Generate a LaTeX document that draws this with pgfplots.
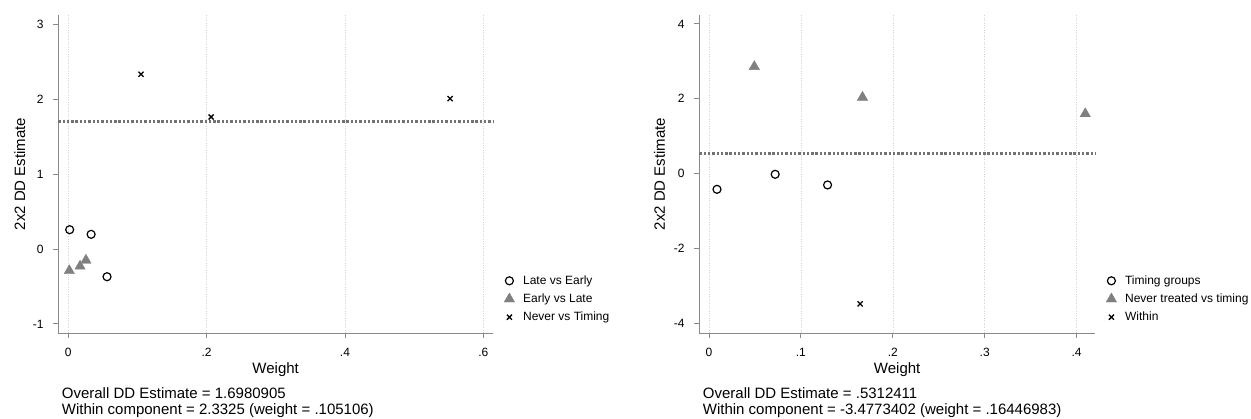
\documentclass[border=0pt]{standalone}
\usepackage{fontspec}
\setmainfont{Liberation Sans}
\usepackage{pgfplots}
\pgfplotsset{compat=1.18}
\definecolor{axgray}{HTML}{8A8A8A}
\definecolor{mgray}{HTML}{808080}
\definecolor{gridgray}{HTML}{D2D2D2}
\pgfplotsset{
  stata/.style={
    scale only axis,
    axis lines*=left,
    axis line style={axgray, line width=0.9pt},
    every tick/.style={axgray, line width=0.9pt},
    major tick length=5pt,
    tick align=outside,
    xtick pos=bottom, ytick pos=left,
    xmajorgrids,
    ymajorgrids=false,
    major x grid style={gridgray, line width=0.6pt, dash pattern=on 0.8pt off 1.6pt},
    tick label style={font=\fontsize{12}{14}\selectfont},
    /pgf/number format/assume math mode=true,
    xticklabel style={anchor=base, inner sep=0pt, yshift=-18.7pt},
    yticklabel style={anchor=east, inner sep=0pt, xshift=-9.5pt},
    label style={font=\fontsize{15}{17}\selectfont, inner sep=0pt},
    legend cell align=left,
    legend style={draw=none, fill=none, font=\fontsize{12}{14}\selectfont,
      anchor=south west, row sep=5pt,
      nodes={inner sep=1.5pt},
      /tikz/every odd column/.append style={column sep=7pt}},
    legend image code/.code={\draw[mark repeat=2,mark phase=2] plot coordinates {(-3pt,0pt)(0pt,0pt)(3pt,0pt)};},
    clip=false,
  },
  circ/.style={only marks, mark=o, mark size=4pt, black, line width=1.2pt},
  tri/.style={only marks, mark=triangle*, mark size=6pt, mgray, draw=none, fill=mgray},
  crs/.style={only marks, mark=x, mark size=3.6pt, black, line width=1.3pt},
  ddline/.style={mgray!90!black, line width=3.2pt, dash pattern=on 2.4pt off 1.9pt},
}
\begin{document}
\begin{tikzpicture}[x=1pt,y=1pt]
\path[use as bounding box] (0,0) rectangle (1251,419);
% ---------------- left panel
\begin{axis}[stata,
  at={(58.3pt,86pt)}, anchor=south west,
  width=434.7pt, height=318pt,
  xmin=-0.01445, xmax=0.614, ymin=-1.121, ymax=3.124,
  xtick={0,0.2,0.4,0.6}, xticklabels={0,.2,.4,.6},
  ytick={-1,0,1,2,3}, yticklabels={-1,0,1,2,3},
  xlabel={Weight}, ylabel={2x2 DD Estimate},
  xlabel style={at={(axis description cs:0.5,-0.1267)}, anchor=base},
  ylabel style={at={(axis description cs:-0.0766,0.5)}, anchor=base},
  legend style={at={(1,0)}, xshift=8pt, yshift=7pt},
]
\addplot[circ] coordinates {(0.002,0.258) (0.033,0.196) (0.056,-0.37)};
\addlegendentry{Late vs Early}
\addplot[tri] coordinates {(0.0015,-0.29) (0.017,-0.23) (0.0255,-0.15)};
\addlegendentry{Early vs Late}
\addplot[crs] coordinates {(0.105106,2.3325) (0.2065,1.762) (0.552,2.008)};
\addlegendentry{Never vs Timing}
\addplot[ddline, forget plot] coordinates {(-0.01445,1.6980905) (0.614,1.6980905)};
\end{axis}
% ---------------- right panel
\begin{axis}[stata,
  at={(699.3pt,86pt)}, anchor=south west,
  width=395.7pt, height=318pt,
  xmin=-0.01055, xmax=0.42, ymin=-4.254, ymax=4.238,
  xtick={0,0.1,0.2,0.3,0.4}, xticklabels={0,.1,.2,.3,.4},
  ytick={-4,-2,0,2,4}, yticklabels={-4,-2,0,2,4},
  xlabel={Weight}, ylabel={2x2 DD Estimate},
  xlabel style={at={(axis description cs:0.5,-0.1267)}, anchor=base},
  ylabel style={at={(axis description cs:-0.0867,0.5)}, anchor=base},
  legend style={at={(1,0)}, xshift=8pt, yshift=7pt},
]
\addplot[circ] coordinates {(0.0087,-0.417) (0.072,-0.016) (0.129,-0.30)};
\addlegendentry{Timing groups}
\addplot[tri] coordinates {(0.0493,2.86) (0.167,2.04) (0.4094,1.60)};
\addlegendentry{Never treated vs timing}
\addplot[crs] coordinates {(0.16446983,-3.4773402)};
\addlegendentry{Within}
\addplot[ddline, forget plot] coordinates {(-0.01055,0.5312411) (0.42,0.5312411)};
\end{axis}
% ---------------- notes
\node[anchor=base west, inner sep=0pt, font=\fontsize{15}{17}\selectfont] at (61.7,20) {Overall DD Estimate = 1.6980905};
\node[anchor=base west, inner sep=0pt, font=\fontsize{15}{17}\selectfont] at (61.7,4.6) {Within component = 2.3325 (weight = .105106)};
\node[anchor=base west, inner sep=0pt, font=\fontsize{15}{17}\selectfont] at (702.7,20) {Overall DD Estimate = .5312411};
\node[anchor=base west, inner sep=0pt, font=\fontsize{15}{17}\selectfont] at (702.7,4.6) {Within component = -3.4773402 (weight = .16446983)};
\end{tikzpicture}
\end{document}
